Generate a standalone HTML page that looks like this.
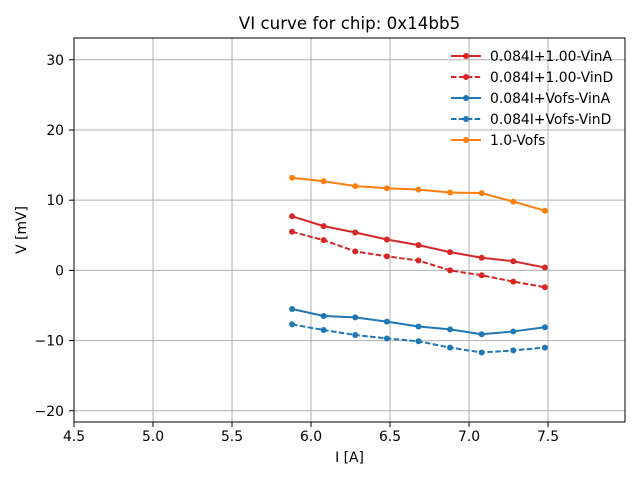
<!DOCTYPE html>
<html><head><meta charset="utf-8"><style>
body{margin:0;background:#fff;}
svg{display:block;font-family:"DejaVu Sans","Liberation Sans",sans-serif;}
</style></head><body>
<svg id="chart" width="640" height="480"></svg>
<script>
const xTicks=[4.5,5.0,5.5,6.0,6.5,7.0,7.5];
const xTickLabels=["4.5","5.0","5.5","6.0","6.5","7.0","7.5"];
const yTicks=[-20,-10,0,10,20,30];
const yTickLabels=["\u221220","\u221210","0","10","20","30"];
const currents=[5.88,6.08,6.28,6.48,6.68,6.88,7.08,7.28,7.48];
const vinA100=[7.7,6.3,5.4,4.4,3.6,2.6,1.8,1.3,0.4];
const vinD100=[5.5,4.3,2.7,2.0,1.4,0.0,-0.7,-1.6,-2.4];
const vinAVofs=[-5.5,-6.5,-6.7,-7.3,-8.0,-8.4,-9.1,-8.7,-8.1];
const vinDVofs=[-7.7,-8.5,-9.2,-9.7,-10.1,-11.0,-11.7,-11.4,-11.0];
const vofs=[13.2,12.7,12.0,11.7,11.5,11.1,11.0,9.8,8.5];
const seriesNames=["0.084I+1.00-VinA","0.084I+1.00-VinD","0.084I+Vofs-VinA","0.084I+Vofs-VinD","1.0-Vofs"];

const L=74,R=625,T=38,B=422,xmin=4.5,xmax=7.987,ymin=-21.6,ymax=33.1;
const sx=v=>L+(v-xmin)/(xmax-xmin)*(R-L);
const sy=v=>B-(v-ymin)/(ymax-ymin)*(B-T);
const svg=document.getElementById('chart');
const NS='http://www.w3.org/2000/svg';
function mk(tag,attrs,parent){const e=document.createElementNS(NS,tag);for(const k in attrs)e.setAttribute(k,attrs[k]);(parent||svg).appendChild(e);return e;}

xTicks.forEach((t,i)=>{
  const x=sx(t);
  const g=mk('line',{x1:x,x2:x,y1:T,y2:B,stroke:'#b0b0b0','stroke-width':1});
  
  
  mk('line',{x1:x,x2:x,y1:B,y2:B+5,stroke:'#000','stroke-width':1});
  const tx=mk('text',{x:x,y:B+19,'text-anchor':'middle','font-size':13.9});
  tx.textContent=xTickLabels[i];
  
  
});
yTicks.forEach((t,i)=>{
  const y=sy(t);
  const g=mk('line',{x1:L,x2:R,y1:y,y2:y,stroke:'#b0b0b0','stroke-width':1});
  
  
  mk('line',{x1:L-5,x2:L,y1:y,y2:y,stroke:'#000','stroke-width':1});
  const tx=mk('text',{x:L-10,y:y+5,'text-anchor':'end','font-size':13.9});
  tx.textContent=yTickLabels[i];
  
  
});

const series=[
 {v:vinA100,c:'#d62728',d:null},
 {v:vinD100,c:'#d62728',d:'5.5,2.4'},
 {v:vinAVofs,c:'#1f77b4',d:null},
 {v:vinDVofs,c:'#1f77b4',d:'5.5,2.4'},
 {v:vofs,c:'#ff7f0e',d:null}
];
const names=['series-vina-100','series-vind-100','series-vina-vofs','series-vind-vofs','series-vofs'];
series.forEach((s,k)=>{
  const g=mk('g',{});
  
  
  const pts=currents.map((x,i)=>sx(x)+','+sy(s.v[i])).join(' ');
  const a={points:pts,fill:'none',stroke:s.c,'stroke-width':2};
  if(s.d)a['stroke-dasharray']=s.d;
  mk('polyline',a,g);
  currents.forEach((x,i)=>{
    const p=mk('circle',{cx:sx(x),cy:sy(s.v[i]),r:3,fill:s.c},g);
    
    
  });
});

const frame=mk('rect',{x:L,y:T,width:R-L,height:B-T,fill:'none',stroke:'#000','stroke-width':1});



const title=mk('text',{x:(L+R)/2,y:29,'text-anchor':'middle','font-size':16.7});
title.textContent='VI curve for chip: 0x14bb5';


const xl=mk('text',{x:(L+R)/2,y:462,'text-anchor':'middle','font-size':13.9});
xl.textContent='I [A]';


const yl=mk('text',{x:0,y:0,'text-anchor':'middle','font-size':13.9,transform:'translate(26,230) rotate(-90)'});
yl.textContent='V [mV]';



series.forEach((s,k)=>{
  const y=56+k*21;
  const g=mk('g',{});
  
  
  const a={x1:451,x2:481,y1:y,y2:y,stroke:s.c,'stroke-width':2};
  if(s.d)a['stroke-dasharray']=s.d;
  mk('line',a,g);
  mk('circle',{cx:466,cy:y,r:3,fill:s.c},g);
  const t=mk('text',{x:490,y:y+5,'font-size':13.9},g);
  t.textContent=seriesNames[k];
});
</script>
</body></html>
